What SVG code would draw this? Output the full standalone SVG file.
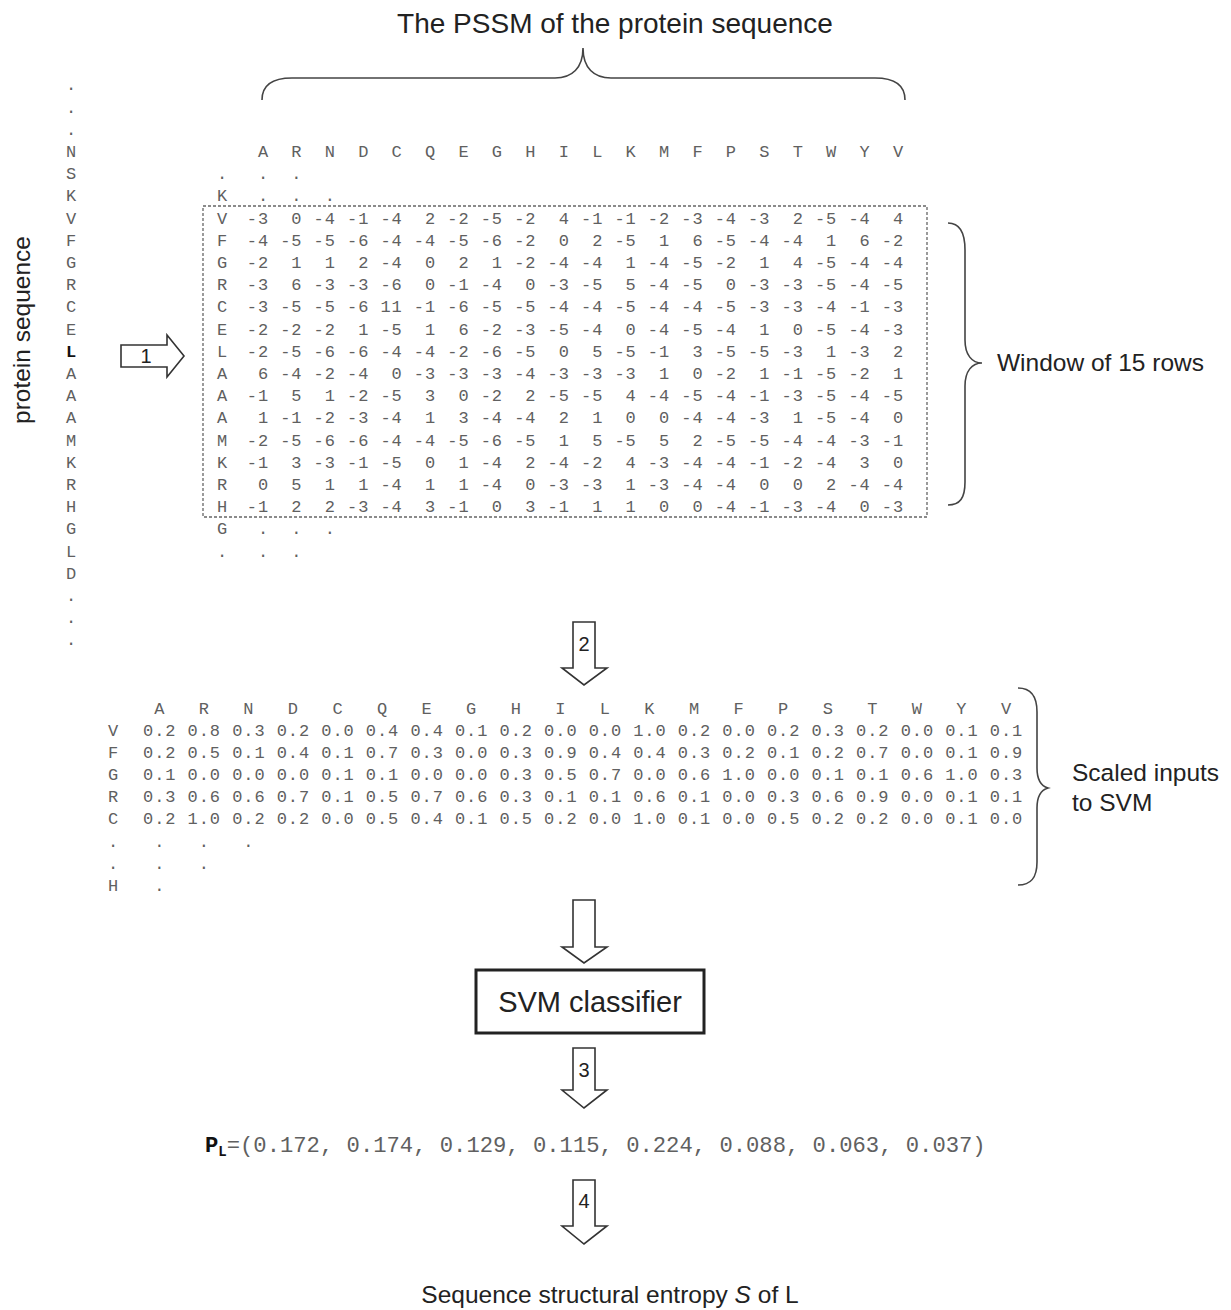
<svg xmlns="http://www.w3.org/2000/svg" width="1231" height="1310" viewBox="0 0 1231 1310">
<style>
.mono{font-family:"Liberation Mono","Courier New",monospace;font-size:17px;letter-spacing:0.94px;fill:#606060;white-space:pre}
.lbl{font-family:"Liberation Mono","Courier New",monospace;font-size:17px;fill:#606060;text-anchor:middle}
.sans{font-family:"Liberation Sans",Arial,sans-serif;font-size:24.5px;fill:#222}
.num{font-family:"Liberation Sans",Arial,sans-serif;font-size:20px;fill:#222;text-anchor:middle}
.arrow{fill:#fff;stroke:#333;stroke-width:1.6;stroke-linejoin:miter}
.brace{fill:none;stroke:#444;stroke-width:1.6}
</style>
<rect width="1231" height="1310" fill="#fff"/>

<g id="title">
<text class="sans" x="615" y="33" text-anchor="middle" style="font-size:28px">The PSSM of the protein sequence</text>
</g>

<g id="sequence-label">
<text class="sans" transform="translate(30,330) rotate(-90)" text-anchor="middle">protein sequence</text>
</g>

<g id="sequence">
<text class="lbl" x="71" y="90.4">.</text>
<text class="lbl" x="71" y="112.6">.</text>
<text class="lbl" x="71" y="134.8">.</text>
<text class="lbl" x="71" y="157">N</text>
<text class="lbl" x="71" y="179.2">S</text>
<text class="lbl" x="71" y="201.4">K</text>
<text class="lbl" x="71" y="223.6">V</text>
<text class="lbl" x="71" y="245.8">F</text>
<text class="lbl" x="71" y="268">G</text>
<text class="lbl" x="71" y="290.2">R</text>
<text class="lbl" x="71" y="312.4">C</text>
<text class="lbl" x="71" y="334.6">E</text>
<text class="lbl" x="71" y="356.8" style="font-weight:bold;fill:#111">L</text>
<text class="lbl" x="71" y="379">A</text>
<text class="lbl" x="71" y="401.2">A</text>
<text class="lbl" x="71" y="423.4">A</text>
<text class="lbl" x="71" y="445.6">M</text>
<text class="lbl" x="71" y="467.8">K</text>
<text class="lbl" x="71" y="490">R</text>
<text class="lbl" x="71" y="512.2">H</text>
<text class="lbl" x="71" y="534.4">G</text>
<text class="lbl" x="71" y="556.6">L</text>
<text class="lbl" x="71" y="578.8">D</text>
<text class="lbl" x="71" y="601">.</text>
<text class="lbl" x="71" y="623.2">.</text>
<text class="lbl" x="71" y="645.4">.</text>
</g>

<g id="pssm">
<text class="mono" xml:space="preserve" x="235.6" y="157">  A  R  N  D  C  Q  E  G  H  I  L  K  M  F  P  S  T  W  Y  V</text>
<text class="lbl" x="222" y="179.1">.</text><text class="mono" xml:space="preserve" x="235.6" y="179.1">  .  .</text>
<text class="lbl" x="222" y="201.3">K</text><text class="mono" xml:space="preserve" x="235.6" y="201.3">  .  .  .</text>
<text class="lbl" x="222" y="223.5">V</text><text class="mono" xml:space="preserve" x="235.6" y="223.5"> -3  0 -4 -1 -4  2 -2 -5 -2  4 -1 -1 -2 -3 -4 -3  2 -5 -4  4</text>
<text class="lbl" x="222" y="245.7">F</text><text class="mono" xml:space="preserve" x="235.6" y="245.7"> -4 -5 -5 -6 -4 -4 -5 -6 -2  0  2 -5  1  6 -5 -4 -4  1  6 -2</text>
<text class="lbl" x="222" y="267.9">G</text><text class="mono" xml:space="preserve" x="235.6" y="267.9"> -2  1  1  2 -4  0  2  1 -2 -4 -4  1 -4 -5 -2  1  4 -5 -4 -4</text>
<text class="lbl" x="222" y="290.1">R</text><text class="mono" xml:space="preserve" x="235.6" y="290.1"> -3  6 -3 -3 -6  0 -1 -4  0 -3 -5  5 -4 -5  0 -3 -3 -5 -4 -5</text>
<text class="lbl" x="222" y="312.3">C</text><text class="mono" xml:space="preserve" x="235.6" y="312.3"> -3 -5 -5 -6 11 -1 -6 -5 -5 -4 -4 -5 -4 -4 -5 -3 -3 -4 -1 -3</text>
<text class="lbl" x="222" y="334.5">E</text><text class="mono" xml:space="preserve" x="235.6" y="334.5"> -2 -2 -2  1 -5  1  6 -2 -3 -5 -4  0 -4 -5 -4  1  0 -5 -4 -3</text>
<text class="lbl" x="222" y="356.7">L</text><text class="mono" xml:space="preserve" x="235.6" y="356.7"> -2 -5 -6 -6 -4 -4 -2 -6 -5  0  5 -5 -1  3 -5 -5 -3  1 -3  2</text>
<text class="lbl" x="222" y="378.9">A</text><text class="mono" xml:space="preserve" x="235.6" y="378.9">  6 -4 -2 -4  0 -3 -3 -3 -4 -3 -3 -3  1  0 -2  1 -1 -5 -2  1</text>
<text class="lbl" x="222" y="401.1">A</text><text class="mono" xml:space="preserve" x="235.6" y="401.1"> -1  5  1 -2 -5  3  0 -2  2 -5 -5  4 -4 -5 -4 -1 -3 -5 -4 -5</text>
<text class="lbl" x="222" y="423.3">A</text><text class="mono" xml:space="preserve" x="235.6" y="423.3">  1 -1 -2 -3 -4  1  3 -4 -4  2  1  0  0 -4 -4 -3  1 -5 -4  0</text>
<text class="lbl" x="222" y="445.5">M</text><text class="mono" xml:space="preserve" x="235.6" y="445.5"> -2 -5 -6 -6 -4 -4 -5 -6 -5  1  5 -5  5  2 -5 -5 -4 -4 -3 -1</text>
<text class="lbl" x="222" y="467.7">K</text><text class="mono" xml:space="preserve" x="235.6" y="467.7"> -1  3 -3 -1 -5  0  1 -4  2 -4 -2  4 -3 -4 -4 -1 -2 -4  3  0</text>
<text class="lbl" x="222" y="489.9">R</text><text class="mono" xml:space="preserve" x="235.6" y="489.9">  0  5  1  1 -4  1  1 -4  0 -3 -3  1 -3 -4 -4  0  0  2 -4 -4</text>
<text class="lbl" x="222" y="512.1">H</text><text class="mono" xml:space="preserve" x="235.6" y="512.1"> -1  2  2 -3 -4  3 -1  0  3 -1  1  1  0  0 -4 -1 -3 -4  0 -3</text>
<text class="lbl" x="222" y="534.3">G</text><text class="mono" xml:space="preserve" x="235.6" y="534.3">  .  .  .</text>
<text class="lbl" x="222" y="556.5">.</text><text class="mono" xml:space="preserve" x="235.6" y="556.5">  .  .</text>
<rect x="203" y="206" width="724" height="311" fill="none" stroke="#666" stroke-width="1.3" stroke-dasharray="3 2"/>
</g>

<g id="window-label">
<text class="sans" x="997" y="371">Window of 15 rows</text>
</g>

<g id="scaled">
<text class="mono" xml:space="preserve" x="143" y="713.5"> A   R   N   D   C   Q   E   G   H   I   L   K   M   F   P   S   T   W   Y   V</text>
<text class="lbl" x="113" y="735.5">V</text><text class="mono" xml:space="preserve" x="143" y="735.5">0.2 0.8 0.3 0.2 0.0 0.4 0.4 0.1 0.2 0.0 0.0 1.0 0.2 0.0 0.2 0.3 0.2 0.0 0.1 0.1</text>
<text class="lbl" x="113" y="757.7">F</text><text class="mono" xml:space="preserve" x="143" y="757.7">0.2 0.5 0.1 0.4 0.1 0.7 0.3 0.0 0.3 0.9 0.4 0.4 0.3 0.2 0.1 0.2 0.7 0.0 0.1 0.9</text>
<text class="lbl" x="113" y="779.9">G</text><text class="mono" xml:space="preserve" x="143" y="779.9">0.1 0.0 0.0 0.0 0.1 0.1 0.0 0.0 0.3 0.5 0.7 0.0 0.6 1.0 0.0 0.1 0.1 0.6 1.0 0.3</text>
<text class="lbl" x="113" y="802.1">R</text><text class="mono" xml:space="preserve" x="143" y="802.1">0.3 0.6 0.6 0.7 0.1 0.5 0.7 0.6 0.3 0.1 0.1 0.6 0.1 0.0 0.3 0.6 0.9 0.0 0.1 0.1</text>
<text class="lbl" x="113" y="824.3">C</text><text class="mono" xml:space="preserve" x="143" y="824.3">0.2 1.0 0.2 0.2 0.0 0.5 0.4 0.1 0.5 0.2 0.0 1.0 0.1 0.0 0.5 0.2 0.2 0.0 0.1 0.0</text>
<text class="lbl" x="113" y="846.5">.</text><text class="mono" xml:space="preserve" x="143" y="846.5"> .   .   .</text>
<text class="lbl" x="113" y="868.7">.</text><text class="mono" xml:space="preserve" x="143" y="868.7"> .   .</text>
<text class="lbl" x="113" y="890.9">H</text><text class="mono" xml:space="preserve" x="143" y="890.9"> .</text>
</g>

<g id="scaled-label">
<text class="sans" x="1072" y="781">Scaled inputs</text>
<text class="sans" x="1072" y="811">to SVM</text>
</g>

<g id="svm">
<rect x="476" y="970" width="228" height="63" fill="#fff" stroke="#222" stroke-width="3"/>
<text class="sans" x="590" y="1012" text-anchor="middle" style="font-size:29px">SVM classifier</text>
</g>

<g id="probabilities">
<text x="205" y="1152" style="font-family:'Liberation Mono','Courier New',monospace;font-size:22.2px;fill:#606060;white-space:pre" xml:space="preserve"><tspan style="font-weight:bold;fill:#111">P</tspan><tspan dy="4" style="font-weight:bold;fill:#111;font-size:14px">L</tspan><tspan dy="-4">=(0.172, 0.174, 0.129, 0.115, 0.224, 0.088, 0.063, 0.037)</tspan></text>
</g>

<g id="entropy">
<text class="sans" x="610" y="1303" text-anchor="middle">Sequence structural entropy <tspan font-style="italic">S</tspan> of L</text>
</g>

<g id="connectors">
<path class="brace" d="M262,100 C262,86 272,78 292,78 L555,78 C572,78 583,68 583,48 C583,68 594,78 611,78 L875,78 C895,78 905,86 905,100"/>
<path class="brace" d="M948,223 C960,223 965,232 965,250 L965,340 C965,355 972,363 982,363 C972,363 965,371 965,386 L965,482 C965,498 960,505 948,505"/>
<path class="brace" d="M1018,688 C1031,688 1037,696 1037,712 L1037,768 C1037,780 1041,786 1048,788 C1041,790 1037,796 1037,808 L1037,862 C1037,878 1031,885 1018,885"/>
<g id="arrow1"><path class="arrow" d="M121,345 H167 V335 L184,356 L167,377 V367 H121 Z"/><text class="num" x="146" y="363">1</text></g>
<g id="arrow2"><path class="arrow" d="M573,622 H595 V668 H607 L584,685 L562,668 H573 Z"/><text class="num" x="584" y="651">2</text></g>
<g id="arrow-svm"><path class="arrow" d="M573,900 H595 V947 H607 L584,963 L562,947 H573 Z"/></g>
<g id="arrow3"><path class="arrow" d="M573,1048 H595 V1090 H607 L584,1108 L562,1090 H573 Z"/><text class="num" x="584" y="1077">3</text></g>
<g id="arrow4"><path class="arrow" d="M573,1180 H595 V1226 H607 L584,1244 L562,1226 H573 Z"/><text class="num" x="584" y="1208">4</text></g>
</g>
</svg>
